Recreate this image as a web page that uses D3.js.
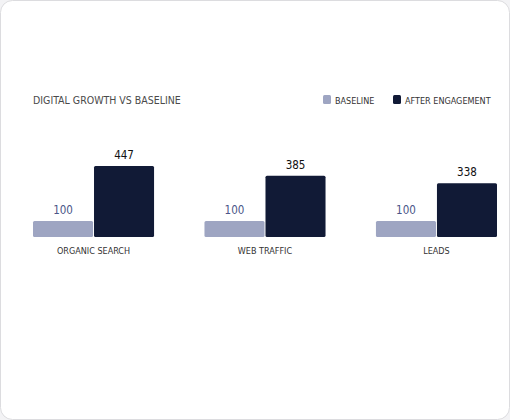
<!DOCTYPE html>
<html>
<head>
<meta charset="utf-8">
<script src="https://cdn.jsdelivr.net/npm/d3@7"></script>
<style>
  body { margin: 0; background: #f3f3f5; }
  text { font-family: "DejaVu Sans Condensed", "DejaVu Sans", sans-serif; }
</style>
</head>
<body>
<script>
  var categories = ["ORGANIC SEARCH", "WEB TRAFFIC", "LEADS"];
  var seriesNames = ["BASELINE", "AFTER ENGAGEMENT"];
  var baseline = [100, 100, 100];
  var after = [447, 385, 338];
  var colors = ["#9ea5c2", "#111a36"];

  var w = 510, h = 420;
  var svg = d3.select("body").append("svg").attr("width", w).attr("height", h);

  svg.append("rect").attr("x", 0.5).attr("y", 0.5).attr("width", w - 1).attr("height", h - 1)
     .attr("rx", 12).attr("fill", "#fff").attr("stroke", "#dcdcdf");

  svg.append("text").attr("x", 33).attr("y", 104).attr("font-size", 10.5)
     .attr("fill", "#4a4a4a").text("DIGITAL GROWTH VS BASELINE");

  // legend
  var legX = [323, 393];
  seriesNames.forEach(function (s, i) {
    svg.append("rect").attr("x", legX[i]).attr("y", 95).attr("width", 8).attr("height", 9)
       .attr("rx", 1.5).attr("fill", colors[i]);
    svg.append("text").attr("x", legX[i] + 12).attr("y", 104).attr("font-size", 9)
       .attr("fill", "#333").text(s);
  });

  var data = categories.map(function (c, i) {
    return { cat: c, vals: [baseline[i], after[i]] };
  });

  var x0 = d3.scaleBand().domain(categories).range([33, 497]).paddingInner(0.294).paddingOuter(0);
  var x1 = d3.scaleBand().domain([0, 1]).range([0, x0.bandwidth()]).paddingInner(0.016);
  var y = d3.scaleLinear().domain([0, 447]).range([237, 166]);

  var g = svg.selectAll(".grp").data(data).enter().append("g")
     .attr("transform", function (d) { return "translate(" + x0(d.cat) + ",0)"; });

  g.selectAll("rect").data(function (d) { return d.vals; }).enter().append("rect")
     .attr("x", function (d, i) { return x1(i); })
     .attr("y", function (d) { return y(d); })
     .attr("width", x1.bandwidth())
     .attr("height", function (d) { return y(0) - y(d); })
     .attr("rx", 1.5)
     .attr("fill", function (d, i) { return colors[i]; });

  g.selectAll(".val").data(function (d) { return d.vals; }).enter().append("text")
     .attr("x", function (d, i) { return x1(i) + x1.bandwidth() / 2; })
     .attr("y", function (d) { return y(d) - 7; })
     .attr("text-anchor", "middle").attr("font-size", 11.5)
     .attr("fill", function (d, i) { return i === 0 ? "#4a5688" : "#111"; })
     .text(function (d) { return d; });

  g.append("text").attr("x", x0.bandwidth() / 2).attr("y", 254)
     .attr("text-anchor", "middle").attr("font-size", 9).attr("fill", "#333")
     .text(function (d) { return d.cat; });
</script>
</body>
</html>
